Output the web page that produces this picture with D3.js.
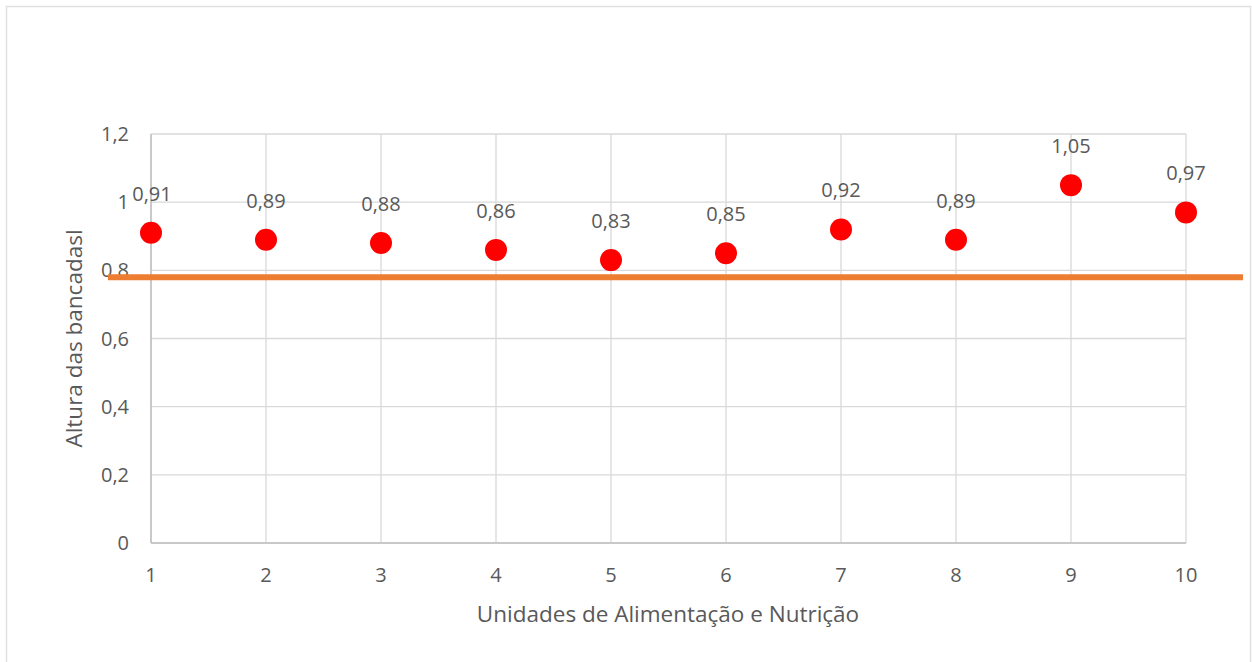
<!DOCTYPE html>
<html>
<head>
<meta charset="utf-8">
<script src="https://cdn.jsdelivr.net/npm/d3@7/dist/d3.min.js"></script>
<style>
  html, body { margin: 0; padding: 0; background: #fff; }
  svg { display: block; }
  text { font-family: "Open Sans", "Noto Sans", sans-serif; fill: #595959; }
</style>
</head>
<body>
<svg id="chart" width="1252" height="662"></svg>
<script>
// Unidades de Alimentação e Nutrição (1..10) and measured bench heights
const unidades = [1, 2, 3, 4, 5, 6, 7, 8, 9, 10];
const alturas = [0.91, 0.89, 0.88, 0.86, 0.83, 0.85, 0.92, 0.89, 1.05, 0.97];
const yTicks = [0, 0.2, 0.4, 0.6, 0.8, 1, 1.2];
const referencia = 0.78;   // reference height line

const svg = d3.select("#chart");
const plot = { left: 151, right: 1186, top: 134, bottom: 543 };

const fmt = v => String(v).replace(".", ",");

// chart frame
svg.append("rect")
  .attr("x", 6.5).attr("y", 6.5)
  .attr("width", 1244).attr("height", 670)
  .attr("fill", "#fff").attr("stroke", "#e0e0e0").attr("stroke-width", 1.5);

const x = d3.scaleLinear().domain([1, 10]).range([plot.left, plot.right]);
const y = d3.scaleLinear().domain([0, 1.2]).range([plot.bottom, plot.top]);

// horizontal gridlines
svg.append("g")
  .selectAll("line").data(yTicks).join("line")
  .attr("x1", plot.left).attr("x2", plot.right)
  .attr("y1", d => y(d)).attr("y2", d => y(d))
  .attr("stroke", "#d9d9d9").attr("stroke-width", 1.3);

// vertical gridlines
svg.append("g")
  .selectAll("line").data(unidades).join("line")
  .attr("x1", d => x(d)).attr("x2", d => x(d))
  .attr("y1", plot.top).attr("y2", plot.bottom)
  .attr("stroke", "#d9d9d9").attr("stroke-width", 1.3);

// axis lines
svg.append("line")
  .attr("x1", plot.left).attr("x2", plot.right)
  .attr("y1", plot.bottom).attr("y2", plot.bottom)
  .attr("stroke", "#bfbfbf").attr("stroke-width", 1.5);
svg.append("line")
  .attr("x1", plot.left).attr("x2", plot.left)
  .attr("y1", plot.top).attr("y2", plot.bottom)
  .attr("stroke", "#bfbfbf").attr("stroke-width", 1.5);

// y tick labels
svg.append("g")
  .selectAll("text").data(yTicks).join("text")
  .attr("x", 129).attr("y", d => y(d))
  .attr("dy", "0.35em")
  .attr("text-anchor", "end")
  .attr("font-size", 20)
  .text(d => fmt(d));

// x tick labels
svg.append("g")
  .selectAll("text").data(unidades).join("text")
  .attr("x", d => x(d)).attr("y", 582)
  .attr("text-anchor", "middle")
  .attr("font-size", 20)
  .text(d => d);

// axis titles
svg.append("text")
  .attr("x", 668).attr("y", 622)
  .attr("text-anchor", "middle")
  .attr("font-size", 22.5)
  .text("Unidades de Alimentação e Nutrição");

svg.append("text")
  .attr("transform", `translate(82, ${(plot.top + plot.bottom) / 2}) rotate(-90)`)
  .attr("text-anchor", "middle")
  .attr("font-size", 22.5)
  .text("Altura das bancadasl");

// reference line
svg.append("line")
  .attr("x1", 108).attr("x2", 1243)
  .attr("y1", y(referencia)).attr("y2", y(referencia))
  .attr("stroke", "#ed7d31").attr("stroke-width", 6);

// points
const pts = unidades.map((u, i) => ({ u, v: alturas[i] }));
svg.append("g")
  .selectAll("circle").data(pts).join("circle")
  .attr("cx", d => x(d.u)).attr("cy", d => y(d.v))
  .attr("r", 11)
  .attr("fill", "#ff0000");

// value labels
svg.append("g")
  .selectAll("text").data(pts).join("text")
  .attr("x", d => x(d.u) + (d.u === 1 ? 1 : 0))
  .attr("y", d => y(d.v) - 32)
  .attr("text-anchor", "middle")
  .attr("font-size", 20)
  .text(d => fmt(d.v));
</script>
</body>
</html>
